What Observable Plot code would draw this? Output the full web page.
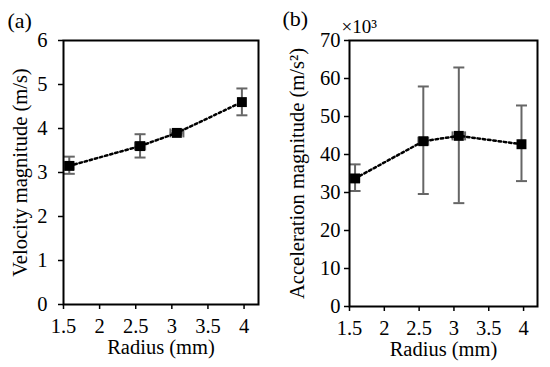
<!DOCTYPE html>
<html>
<head>
<meta charset="utf-8">
<script src="https://cdn.jsdelivr.net/npm/d3@7"></script>
<script src="https://cdn.jsdelivr.net/npm/@observablehq/plot@0.6"></script>
<style>
  html, body { margin: 0; padding: 0; background: #fff; }
  #wrap { display: flex; width: 550px; height: 367px; }
  #wrap svg { display: block; }
  #wrap svg, #wrap svg text { font-family: "Liberation Serif", "Times New Roman", serif !important; }
</style>
</head>
<body>
<div id="wrap"></div>
<script>
// ---- data ----
const radius = [1.58, 2.56, 3.07, 3.97];            // mm
const radiusErr = [0.06, 0.07, 0.09, 0.04];          // mm
const velocity = [3.15, 3.6, 3.9, 4.6];              // m/s
const velocityLow = [2.97, 3.34, 3.86, 4.3];
const velocityHigh = [3.36, 3.87, 3.95, 4.91];
const accel = [33.7, 43.5, 44.9, 42.7];              // ×10^3 m/s^2
const accelLow = [30.4, 29.6, 27.2, 33.0];
const accelHigh = [37.4, 57.9, 62.9, 52.9];
const xTicks = [1.5, 2, 2.5, 3, 3.5, 4];
const vTicks = [0, 1, 2, 3, 4, 5, 6];
const aTicks = [0, 10, 20, 30, 40, 50, 60, 70];

const velData = radius.map((r, i) => ({r, e: radiusErr[i], y: velocity[i], lo: velocityLow[i], hi: velocityHigh[i]}));
const accData = radius.map((r, i) => ({r, e: radiusErr[i], y: accel[i], lo: accelLow[i], hi: accelHigh[i]}));

const GRAY = "#666";
const FONT = "Liberation Serif";
const FS = 20.5;
const fmt = d => String(d);

const hCap = {draw(ctx, size) { const w = Math.sqrt(size / Math.PI); ctx.moveTo(-w, 0); ctx.lineTo(w, 0); }};
const vCap = {draw(ctx, size) { const w = Math.sqrt(size / Math.PI); ctx.moveTo(0, -w); ctx.lineTo(0, w); }};

function panel(data, opts) {
  return Plot.plot({
    width: 275,
    height: 367,
    marginLeft: opts.ml,
    marginRight: opts.mr,
    marginTop: 40,
    marginBottom: opts.mb,
    x: {domain: [1.5, 4.2]},
    y: {domain: opts.yDomain},
    style: {fontFamily: FONT, fontSize: FS + "px", color: "black", background: "white", overflow: "visible"},
    marks: [
      Plot.axisX({ticks: xTicks, tickFormat: fmt, tickSize: 5, tickPadding: 9, strokeWidth: 1.5, fontSize: FS, fontFamily: FONT,
        label: "Radius (mm)", labelAnchor: "center", labelOffset: 49, labelArrow: "none"}),
      Plot.axisY({ticks: opts.yTicks, tickFormat: fmt, tickSize: 5, tickPadding: opts.tp, strokeWidth: 1.5, fontSize: FS, fontFamily: FONT,
        label: opts.yLabel, labelAnchor: "center", labelOffset: opts.lo, labelArrow: "none"}),
      // vertical error bars
      Plot.ruleX(data, {x: "r", y1: "lo", y2: "hi", stroke: GRAY, strokeWidth: 2}),
      Plot.dot(data, {x: "r", y: "lo", symbol: hCap, r: 5.5, stroke: GRAY, strokeWidth: 2}),
      Plot.dot(data, {x: "r", y: "hi", symbol: hCap, r: 5.5, stroke: GRAY, strokeWidth: 2}),
      // horizontal error bars
      Plot.ruleY(data, {y: "y", x1: d => d.r - d.e, x2: d => d.r + d.e, stroke: GRAY, strokeWidth: 2}),
      Plot.dot(data, {x: d => d.r - d.e, y: "y", symbol: vCap, r: 4.5, stroke: GRAY, strokeWidth: 2}),
      Plot.dot(data, {x: d => d.r + d.e, y: "y", symbol: vCap, r: 4.5, stroke: GRAY, strokeWidth: 2}),
      // dotted connecting line
      Plot.line(data, {x: "r", y: "y", stroke: "black", strokeWidth: 2.5, strokeDasharray: "2.5,2.8"}),
      // square markers
      Plot.dot(data, {x: "r", y: "y", symbol: "square", r: 5.6, fill: "black", stroke: "none"}),
      Plot.frame({stroke: "black", strokeWidth: 2}),
      Plot.text([opts.tag], {frameAnchor: "top-left", dx: opts.tagDx, dy: opts.tagDy, textAnchor: "start", lineAnchor: "middle", fontSize: 22, fontFamily: FONT, fill: "black"}),
      ...(opts.extra || [])
    ]
  });
}

const left = panel(velData, {
  ml: 63, mr: 17, mb: 63, yDomain: [0, 6], yTicks: vTicks, tp: 11, lo: 51,
  yLabel: "Velocity magnitude (m/s)", tag: "(a)", tagDx: -56, tagDy: -20
});

const right = panel(accData, {
  ml: 74, mr: 13, mb: 61, yDomain: [0, 70], yTicks: aTicks, tp: 4, lo: 60,
  yLabel: "Acceleration magnitude (m/s²)", tag: "(b)", tagDx: -67, tagDy: -22,
  extra: [Plot.text(["×10³"], {frameAnchor: "top-left", dx: -8, dy: -14, textAnchor: "start", lineAnchor: "middle", fontSize: 19, fontFamily: FONT, fill: "black"})]
});

document.getElementById("wrap").append(left, right);
</script>
</body>
</html>
